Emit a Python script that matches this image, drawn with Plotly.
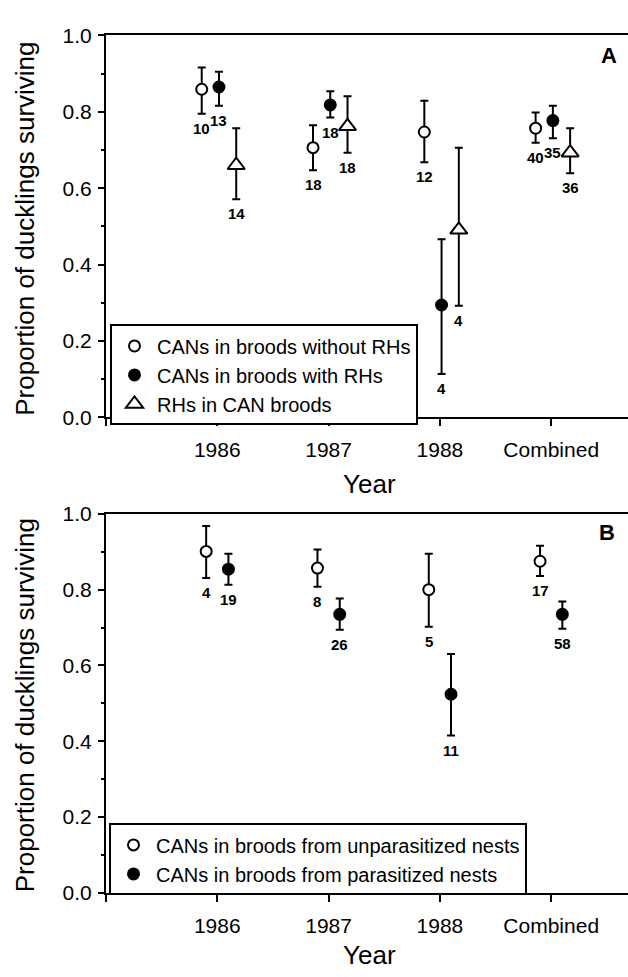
import plotly.graph_objects as go

# ---------------- data ----------------
categories = ["1986", "1987", "1988", "Combined"]

# Panel A
a_open_mean = [0.859, 0.706, 0.747, 0.757]
a_open_low = [0.795, 0.647, 0.668, 0.719]
a_open_high = [0.916, 0.765, 0.829, 0.798]
a_open_n = ["10", "18", "12", "40"]

a_fill_mean = [0.865, 0.818, 0.294, 0.777]
a_fill_low = [0.816, 0.785, 0.113, 0.731]
a_fill_high = [0.905, 0.854, 0.466, 0.816]
a_fill_n = ["13", "18", "4", "35"]

a_tri_mean = [0.660, 0.762, 0.491, 0.693]
a_tri_low = [0.571, 0.693, 0.292, 0.639]
a_tri_high = [0.757, 0.841, 0.706, 0.757]
a_tri_n = ["14", "18", "4", "36"]

# Panel B
b_open_mean = [0.901, 0.857, 0.800, 0.875]
b_open_low = [0.831, 0.808, 0.702, 0.836]
b_open_high = [0.968, 0.906, 0.895, 0.916]
b_open_n = ["4", "8", "5", "17"]

b_fill_mean = [0.854, 0.735, 0.524, 0.735]
b_fill_low = [0.813, 0.694, 0.415, 0.697]
b_fill_high = [0.895, 0.777, 0.630, 0.769]
b_fill_n = ["19", "26", "11", "58"]

y_ticks = [0.0, 0.2, 0.4, 0.6, 0.8, 1.0]

# ---------------- layout helpers ----------------
W, H = 628, 977
FONT = "Liberation Sans, Arial, Helvetica, sans-serif"
X0, XSTEP = 106, 111.3
xmax = (W - X0) / XSTEP


def py(p):
    return 1 - p / H


fig = go.Figure()


def add_series(means, lows, highs, ns, offset, name, symbol, fill, size, xa, ya, legend):
    xs = [i + 1 + offset for i in range(len(means))]
    fig.add_trace(go.Scatter(
        x=xs, y=means, mode="markers", name=name,
        xaxis=xa, yaxis=ya, legend=legend,
        marker=dict(symbol=symbol, size=size, color=fill,
                    line=dict(color="black", width=2)),
        error_y=dict(type="data", symmetric=False,
                     array=[h - m for h, m in zip(highs, means)],
                     arrayminus=[m - l for m, l in zip(means, lows)],
                     color="black", thickness=2, width=4),
    ))
    for x, l, n in zip(xs, lows, ns):
        fig.add_annotation(x=x, y=l, xref=xa, yref=ya, text=n, showarrow=False,
                           yanchor="top", yshift=-4,
                           font=dict(family=FONT, size=15, color="black", weight="bold"))


add_series(a_open_mean, a_open_low, a_open_high, a_open_n, -0.14,
           "CANs in broods without RHs", "circle", "white", 11, "x", "y", "legend")
add_series(a_fill_mean, a_fill_low, a_fill_high, a_fill_n, 0.015,
           "CANs in broods with RHs", "circle", "black", 11, "x", "y", "legend")
add_series(a_tri_mean, a_tri_low, a_tri_high, a_tri_n, 0.17,
           "RHs in CAN broods", "triangle-up", "white", 15, "x", "y", "legend")

add_series(b_open_mean, b_open_low, b_open_high, b_open_n, -0.10,
           "CANs in broods from unparasitized nests", "circle", "white", 11, "x2", "y2", "legend2")
add_series(b_fill_mean, b_fill_low, b_fill_high, b_fill_n, 0.10,
           "CANs in broods from parasitized nests", "circle", "black", 11, "x2", "y2", "legend2")

xaxis_common = dict(
    range=[0, xmax], tickvals=[0, 1, 2, 3, 4], ticktext=[""] + categories,
    showline=True, linecolor="black", linewidth=2, mirror=True,
    ticks="outside", ticklen=7, tickwidth=2, tickcolor="black",
    showgrid=False, zeroline=False, ticklabelstandoff=6,
    tickfont=dict(family=FONT, size=21, color="black"),
)
yaxis_common = dict(
    range=[0, 1], tickvals=y_ticks, ticktext=[f"{v:.1f}" for v in y_ticks],
    showline=True, linecolor="black", linewidth=2,
    ticks="outside", ticklen=6, tickwidth=2, tickcolor="black",
    showgrid=False, zeroline=False, ticklabelstandoff=2,
    tickfont=dict(family=FONT, size=21, color="black"),
    minor=dict(dtick=0.1, tick0=0, ticks="outside", ticklen=3, tickwidth=1.5,
               tickcolor="black", showgrid=False),
)

legend_common = dict(
    xanchor="left", yanchor="top", bgcolor="white",
    bordercolor="black", borderwidth=2, itemwidth=35,
    font=dict(family=FONT, size=20, color="black"),
)

fig.update_layout(
    width=W, height=H, margin=dict(l=0, r=0, t=0, b=0),
    plot_bgcolor="white", paper_bgcolor="white",
    xaxis=dict(domain=[X0 / W, 1], anchor="y", **xaxis_common),
    yaxis=dict(domain=[py(415), py(24)], anchor="x", **yaxis_common),
    xaxis2=dict(domain=[X0 / W, 1], anchor="y2", **xaxis_common),
    yaxis2=dict(domain=[py(902), py(514)], anchor="x2", **yaxis_common),
    legend=dict(x=110 / W, y=py(320), **legend_common),
    legend2=dict(x=109 / W, y=py(831), **legend_common),
)

title_font = dict(family=FONT, size=26, color="black")
for yc in (222, 710):
    fig.add_annotation(x=25 / W, y=py(yc), xref="paper", yref="paper",
                       text="Proportion of ducklings surviving", textangle=-90,
                       showarrow=False, font=title_font,
                       xanchor="center", yanchor="middle")
for yc in (483, 966):
    fig.add_annotation(x=369 / W, y=py(yc), xref="paper", yref="paper",
                       text="Year", showarrow=False, font=title_font,
                       xanchor="center", yanchor="middle")
for txt, xc, yc in (("A", 609, 45), ("B", 607, 533)):
    fig.add_annotation(x=xc / W, y=py(yc), xref="paper", yref="paper",
                       text=txt, showarrow=False,
                       font=dict(family=FONT, size=22, color="black", weight="bold"),
                       xanchor="center", yanchor="middle")

fig.write_html(
    "out.html",
    config={"displayModeBar": False},
    post_script="document.body.style.margin='0px';document.body.style.overflow='hidden';",
)
